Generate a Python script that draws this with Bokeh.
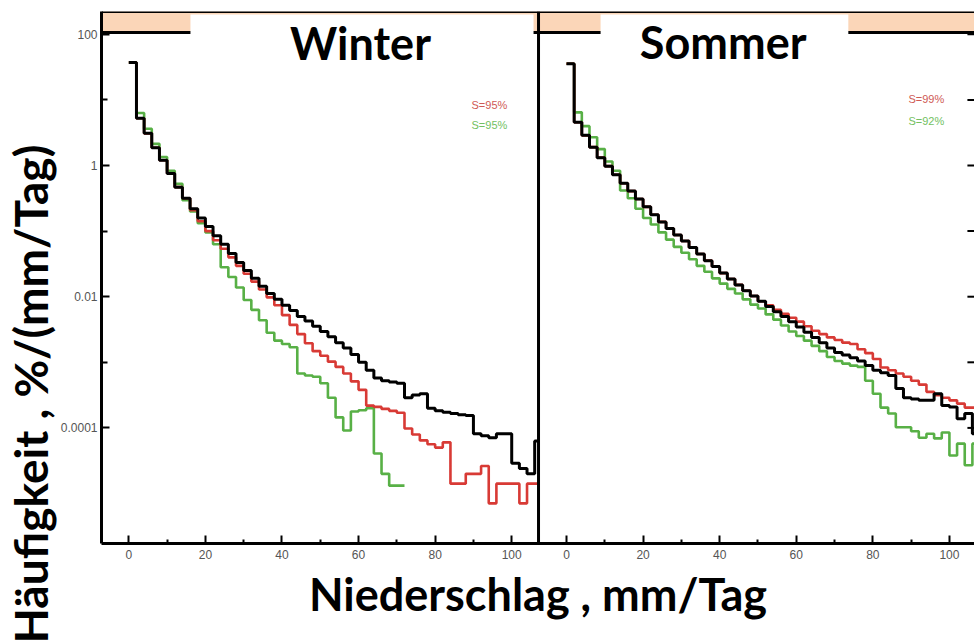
from bokeh.plotting import figure
from bokeh.models import (Range1d, FixedTicker, PrintfTickFormatter, Title,
                          CustomJSTickFormatter, BoxAnnotation, Span, Label, ColumnDataSource)
from bokeh.embed import file_html
from bokeh.resources import INLINE

# ---------------- data ----------------
BIN_WIDTH = 2  # mm/Tag
bin_start = list(range(0, 108, BIN_WIDTH))

# log10 of frequency [%/(mm/Tag)] per 2 mm bin
winter_black_log10 = [1.57, 0.72, 0.49, 0.27, 0.08, -0.12, -0.33, -0.50, -0.66, -0.80,
                      -0.93, -1.07, -1.20, -1.34, -1.48, -1.60, -1.72, -1.84, -1.95, -2.04,
                      -2.13, -2.21, -2.30, -2.37, -2.45, -2.53, -2.61, -2.70, -2.78, -2.88,
                      -3.00, -3.12, -3.24, -3.28, -3.30, -3.32, -3.54, -3.50, -3.48, -3.70,
                      -3.74, -3.76, -3.78, -3.80, -3.81, -4.09, -4.12, -4.15, -4.09, -4.09,
                      -4.54, -4.62, -4.70, -4.20]
winter_red_log10 = [1.57, 0.72, 0.49, 0.27, 0.08, -0.12, -0.33, -0.50, -0.68, -0.85,
                    -1.00, -1.14, -1.27, -1.40, -1.53, -1.65, -1.77, -1.89, -2.01, -2.13,
                    -2.28, -2.43, -2.57, -2.71, -2.83, -2.90, -2.99, -3.07, -3.17, -3.29,
                    -3.42, -3.66, -3.68, -3.71, -3.74, -3.77, -4.01, -4.10, -4.19, -4.25,
                    -4.30, -4.22, -4.85, -4.85, -4.70, -4.70, -4.58, -5.15, -4.85, -4.85,
                    -4.85, -5.15, -4.85, -4.85]
winter_green_log10 = [1.57, 0.80, 0.56, 0.33, 0.13, -0.08, -0.28, -0.53, -0.70, -0.88,
                      -1.02, -1.20, -1.55, -1.70, -1.86, -2.05, -2.20, -2.36, -2.55, -2.67,
                      -2.72, -2.77, -3.17, -3.20, -3.22, -3.32, -3.54, -3.84, -4.04, -3.75,
                      -3.73, -3.70, -4.39, -4.70, -4.88, -4.88]

summer_black_log10 = [1.55, 0.66, 0.46, 0.28, 0.12, -0.01, -0.14, -0.27, -0.39, -0.51,
                      -0.63, -0.75, -0.86, -0.96, -1.06, -1.15, -1.25, -1.35, -1.45, -1.54,
                      -1.64, -1.73, -1.82, -1.91, -1.99, -2.07, -2.15, -2.23, -2.30, -2.38,
                      -2.46, -2.54, -2.62, -2.70, -2.78, -2.85, -2.89, -2.93, -2.98, -3.05,
                      -3.12, -3.16, -3.20, -3.40, -3.54, -3.56, -3.58, -3.58, -3.48, -3.66,
                      -3.68, -3.86, -3.78, -4.09]
summer_red_log10 = [1.55, 0.66, 0.46, 0.28, 0.12, -0.01, -0.14, -0.27, -0.39, -0.51,
                    -0.63, -0.75, -0.86, -0.96, -1.06, -1.15, -1.25, -1.35, -1.45, -1.54,
                    -1.64, -1.73, -1.82, -1.91, -1.99, -2.07, -2.13, -2.20, -2.26, -2.32,
                    -2.38, -2.45, -2.52, -2.57, -2.62, -2.66, -2.70, -2.72, -2.80, -2.86,
                    -2.95, -3.08, -3.12, -3.17, -3.22, -3.28, -3.34, -3.45, -3.50, -3.54,
                    -3.58, -3.63, -3.69, -3.69]
summer_green_log10 = [1.55, 0.81, 0.60, 0.43, 0.25, 0.06, -0.08, -0.38, -0.50, -0.66,
                      -0.80, -0.90, -1.02, -1.13, -1.24, -1.33, -1.43, -1.53, -1.62, -1.72,
                      -1.80, -1.88, -1.95, -2.04, -2.12, -2.18, -2.27, -2.35, -2.44, -2.53,
                      -2.60, -2.67, -2.75, -2.83, -2.92, -2.98, -3.02, -3.05, -3.07, -3.28,
                      -3.48, -3.69, -3.78, -3.99, -3.99, -4.05, -4.15, -4.09, -4.16, -4.07,
                      -4.42, -4.24, -4.57, -4.24]

winter_scores = ["S=95%", "S=95%"]   # red, green
summer_scores = ["S=99%", "S=92%"]

x_major_ticks = [0, 20, 40, 60, 80, 100]
x_minor_ticks = [10, 30, 50, 70, 90]
y_major_ticks = [100, 1, 0.01, 0.0001]
y_minor_ticks = [10, 0.1, 0.001]

Y_LABEL = "Häufigkeit , %/(mm/Tag)"
X_LABEL = "Niederschlag , mm/Tag"

# ---------------- layout / styling constants ----------------
WINTER_LEFT, WINTER_RIGHT = -7.13, 107.0     # visible x-extent of the winter panel
SUMMER_LEFT, SUMMER_RIGHT = -7.31, 106.55    # visible x-extent of the summer panel
OFFSET = WINTER_RIGHT - SUMMER_LEFT          # where summer 0 sits on the shared canvas
Y_MIN, Y_MAX = 1.73e-6, 222.6
BAND_BOTTOM = 106.4
TITLE_BOX_BOTTOM, TITLE_BOX_TOP = 65, 200
PEACH = "#fbd6b8"
RED = "#d83a35"
GREEN = "#58b046"
BLACK = "#000000"
TICK_GRAY = "#555555"

p = figure(width=974, height=643, y_axis_type="log",
           x_range=Range1d(WINTER_LEFT, SUMMER_RIGHT + OFFSET),
           y_range=Range1d(Y_MIN, Y_MAX),
           output_backend="svg", toolbar_location=None,
           min_border_left=101, min_border_right=0, min_border_top=11, min_border_bottom=100,
           background_fill_color="white", border_fill_color="white")
p.extra_x_ranges = {"summer": Range1d(WINTER_LEFT - OFFSET, SUMMER_RIGHT)}
p.grid.visible = False
p.outline_line_color = None

# ---- bottom axis: winter ticks, then summer ticks shifted by OFFSET ----
xa = p.xaxis[0]
xa.ticker = FixedTicker(ticks=x_major_ticks + [t + OFFSET for t in x_major_ticks],
                        minor_ticks=x_minor_ticks + [t + OFFSET for t in x_minor_ticks])
xa.formatter = CustomJSTickFormatter(args=dict(split=WINTER_RIGHT, off=OFFSET),
                                     code="const v = tick > split ? tick - off : tick; return String(Math.round(v));")
xa.major_tick_in = 8
xa.major_tick_out = 0
xa.minor_tick_in = 4
xa.minor_tick_out = 0
xa.major_tick_line_width = 2
xa.minor_tick_line_width = 2
xa.axis_line_width = 3
xa.axis_line_color = BLACK
xa.major_label_text_font = "Liberation Sans"
xa.major_label_text_font_size = "12px"
xa.major_label_text_color = TICK_GRAY
xa.major_label_standoff = 6
xa.axis_label = X_LABEL
xa.axis_label_text_font = "Lato"
xa.axis_label_text_font_style = "bold"
xa.axis_label_text_font_size = "45px"
xa.axis_label_text_color = BLACK
xa.axis_label_standoff = 5

# ---- left axis ----
ya = p.yaxis[0]
ya.ticker = FixedTicker(ticks=y_major_ticks, minor_ticks=y_minor_ticks)
ya.formatter = PrintfTickFormatter(format="%g")
ya.major_tick_in = 8
ya.major_tick_out = 0
ya.minor_tick_in = 6
ya.minor_tick_out = 0
ya.major_tick_line_width = 2
ya.minor_tick_line_width = 2
ya.axis_line_width = 3
ya.axis_line_color = BLACK
ya.major_label_text_font = "Liberation Sans"
ya.major_label_text_font_size = "12px"
ya.major_label_text_color = TICK_GRAY
ya.major_label_standoff = 4

# ---- big rotated y title, starting below the frame like the cropped original ----
p.add_layout(Title(text=Y_LABEL, align="left", offset=-100, standoff=0,
                   vertical_align="bottom", text_font="Lato", text_font_style="bold",
                   text_font_size="46px", text_color=BLACK), "left")

# ---- header band with white title boxes ----
p.add_layout(BoxAnnotation(bottom=BAND_BOTTOM, fill_color=PEACH, fill_alpha=1.0,
                           line_color=None, level="underlay"))
p.add_layout(Span(location=BAND_BOTTOM, dimension="width", line_color=BLACK,
                  line_width=3, level="underlay"))
p.add_layout(BoxAnnotation(left=16.1, right=105.7, bottom=TITLE_BOX_BOTTOM, top=TITLE_BOX_TOP,
                           fill_color="white", fill_alpha=1.0, line_color=None, level="underlay"))
p.add_layout(BoxAnnotation(x_range_name="summer", left=8.9, right=73.6, bottom=TITLE_BOX_BOTTOM,
                           top=TITLE_BOX_TOP, fill_color="white", fill_alpha=1.0,
                           line_color=None, level="underlay"))


def step_source(values_log10, x_limit):
    n = len(values_log10)
    xs = bin_start[:n] + [min(bin_start[n - 1] + BIN_WIDTH, x_limit)]
    ys = [10 ** v for v in values_log10]
    ys = ys + [ys[-1]]
    return ColumnDataSource(dict(x=xs, y=ys))


for vals, col, lw in [(winter_green_log10, GREEN, 2.6), (winter_red_log10, RED, 2.6),
                      (winter_black_log10, BLACK, 3)]:
    p.step(x="x", y="y", source=step_source(vals, WINTER_RIGHT), mode="after",
           line_color=col, line_width=lw)
for vals, col, lw in [(summer_green_log10, GREEN, 2.6), (summer_red_log10, RED, 2.6),
                      (summer_black_log10, BLACK, 3)]:
    p.step(x="x", y="y", source=step_source(vals, 200), mode="after",
           line_color=col, line_width=lw, x_range_name="summer")

# inward ticks on the (cut-off) right edge of the summer panel
TICK_LEN_MM = 1.85
right_tick_y = y_major_ticks + y_minor_ticks
p.segment(x0=[SUMMER_RIGHT - TICK_LEN_MM] * len(right_tick_y), y0=right_tick_y,
          x1=[SUMMER_RIGHT] * len(right_tick_y), y1=right_tick_y,
          line_color=BLACK, line_width=2, x_range_name="summer")

# frame top line and separator between the two panels
p.add_layout(Span(location=Y_MAX, dimension="width", line_color=BLACK, line_width=3))
p.add_layout(Span(location=WINTER_RIGHT, dimension="height", line_color=BLACK, line_width=3))

# ---- panel titles and scores ----
p.add_layout(Label(x=60.5, y=72.4, text="Winter", text_font="Lato", text_font_style="bold",
                   text_font_size="45px", text_color=BLACK, text_align="center",
                   text_baseline="middle"))
p.add_layout(Label(x=40.9, y=77.6, x_range_name="summer", text="Sommer", text_font="Lato",
                   text_font_style="bold", text_font_size="45px", text_color=BLACK,
                   text_align="center", text_baseline="middle"))
for xr, sx, sy1, sy2, scores in [("default", 89.5, 8.5, 4.2, winter_scores),
                                 ("summer", 89.3, 10.5, 4.85, summer_scores)]:
    p.add_layout(Label(x=sx, y=sy1, x_range_name=xr, text=scores[0], text_font="Liberation Sans",
                       text_font_size="11px", text_color="#cf5a55", text_align="left",
                       text_baseline="middle"))
    p.add_layout(Label(x=sx, y=sy2, x_range_name=xr, text=scores[1], text_font="Liberation Sans",
                       text_font_size="11px", text_color="#73bf62", text_align="left",
                       text_baseline="middle"))

open("out.html", "w").write(file_html(p, INLINE))
